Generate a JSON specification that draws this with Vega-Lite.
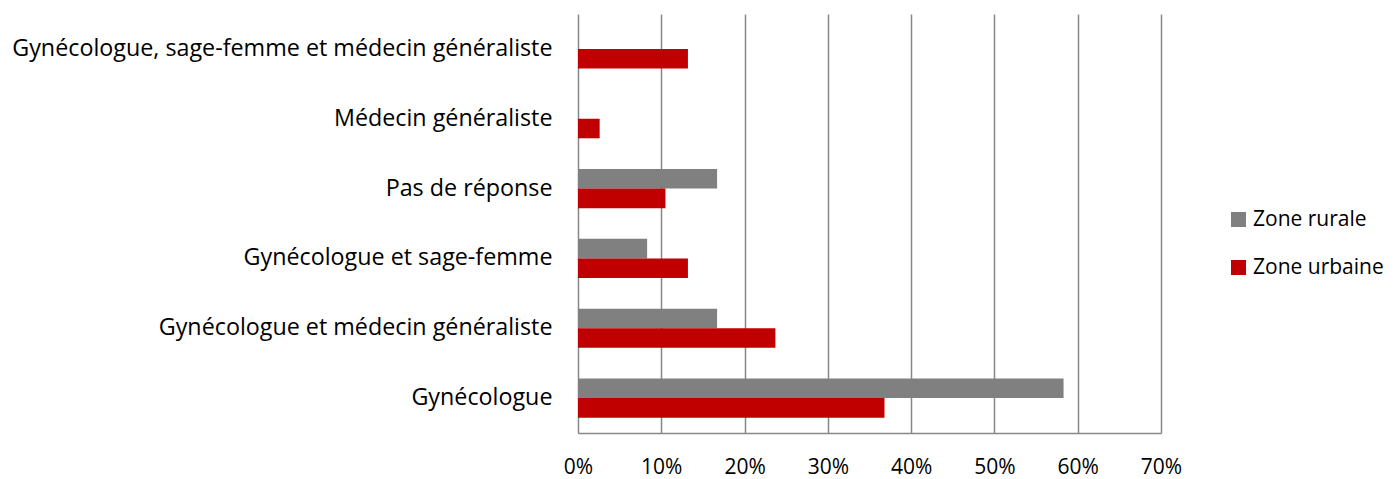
{
  "$schema": "https://vega.github.io/schema/vega-lite/v6.json",
  "width": 583,
  "height": 419,
  "autosize": {"type": "none"},
  "padding": {"left": 578, "top": 14, "right": 235, "bottom": 46},
  "background": "white",
  "config": {
    "view": {"stroke": null},
    "font": "Open Sans",
    "axis": {"labelFont": "Open Sans", "labelColor": "#000000"},
    "legend": {"labelFont": "Open Sans", "labelColor": "#000000"}
  },
  "data": {
    "values": [
      {"cat": "Gynécologue, sage-femme et médecin généraliste", "zone": "Zone rurale", "v": 0},
      {"cat": "Gynécologue, sage-femme et médecin généraliste", "zone": "Zone urbaine", "v": 0.132},
      {"cat": "Médecin généraliste ", "zone": "Zone rurale", "v": 0},
      {"cat": "Médecin généraliste ", "zone": "Zone urbaine", "v": 0.026},
      {"cat": "Pas de réponse", "zone": "Zone rurale", "v": 0.167},
      {"cat": "Pas de réponse", "zone": "Zone urbaine", "v": 0.105},
      {"cat": "Gynécologue et sage-femme", "zone": "Zone rurale", "v": 0.083},
      {"cat": "Gynécologue et sage-femme", "zone": "Zone urbaine", "v": 0.132},
      {"cat": "Gynécologue et médecin généraliste", "zone": "Zone rurale", "v": 0.167},
      {"cat": "Gynécologue et médecin généraliste", "zone": "Zone urbaine", "v": 0.237},
      {"cat": "Gynécologue", "zone": "Zone rurale", "v": 0.583},
      {"cat": "Gynécologue", "zone": "Zone urbaine", "v": 0.368}
    ]
  },
  "mark": {"type": "bar"},
  "encoding": {
    "y": {
      "field": "cat",
      "type": "nominal",
      "sort": null,
      "scale": {"paddingInner": 0.44, "paddingOuter": 0.22},
      "axis": {
        "title": null,
        "domain": false,
        "ticks": false,
        "labelFontSize": 23.3,
        "labelPadding": 26,
        "labelLimit": 600
      }
    },
    "yOffset": {"field": "zone", "type": "nominal", "sort": ["Zone rurale", "Zone urbaine"]},
    "x": {
      "field": "v",
      "type": "quantitative",
      "scale": {"domain": [0, 0.7], "nice": false},
      "axis": {
        "title": null,
        "format": ".0%",
        "values": [0, 0.1, 0.2, 0.3, 0.4, 0.5, 0.6, 0.7],
        "grid": true,
        "gridColor": "#878787",
        "gridWidth": 1.5,
        "domainColor": "#878787",
        "domainWidth": 1.5,
        "ticks": false,
        "labelFlush": false,
        "labelFontSize": 21,
        "labelPadding": 23
      }
    },
    "color": {
      "field": "zone",
      "type": "nominal",
      "scale": {"domain": ["Zone rurale", "Zone urbaine"], "range": ["#808080", "#C00000"]},
      "legend": {
        "title": null,
        "orient": "none",
        "legendX": 650,
        "legendY": 195,
        "symbolType": "square",
        "symbolSize": 225,
        "labelFontSize": 21,
        "rowPadding": 26,
        "labelOffset": 4
      }
    }
  }
}
